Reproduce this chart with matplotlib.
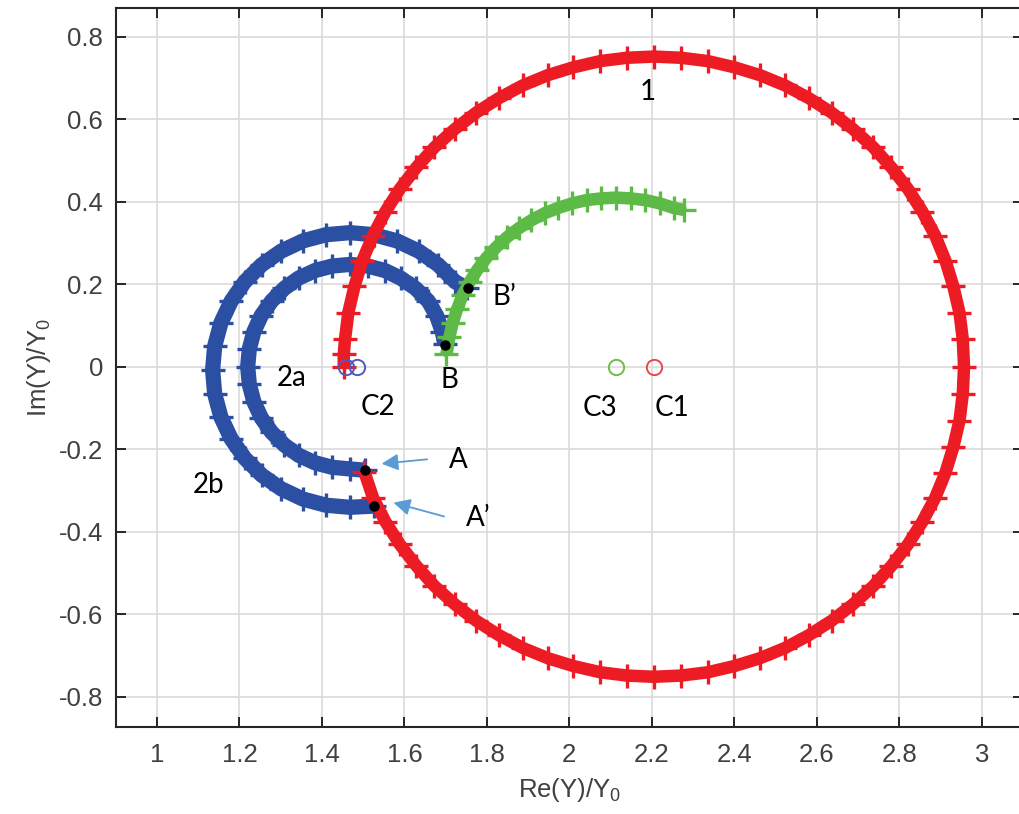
import matplotlib
matplotlib.use("Agg")
import matplotlib.pyplot as plt

# curve 1 (red)
red_x = [1.453, 1.453, 1.456, 1.464, 1.479, 1.498, 1.524, 1.554, 1.589, 1.629,
         1.673, 1.722, 1.774, 1.829, 1.887, 1.948, 2.010, 2.075, 2.139, 2.205,
         2.271, 2.336, 2.400, 2.462, 2.523, 2.581, 2.636, 2.688, 2.737, 2.781,
         2.821, 2.856, 2.887, 2.912, 2.931, 2.946, 2.954, 2.957, 2.954, 2.946,
         2.931, 2.912, 2.887, 2.856, 2.821, 2.781, 2.737, 2.688, 2.636, 2.581,
         2.523, 2.462, 2.400, 2.336, 2.271, 2.205, 2.139, 2.075, 2.010, 1.948,
         1.887, 1.829, 1.774, 1.722, 1.673, 1.629, 1.589, 1.554, 1.524, 1.503]
red_y = [0.000, 0.030, 0.066, 0.131, 0.195, 0.257, 0.318, 0.376, 0.431, 0.483,
         0.532, 0.576, 0.616, 0.651, 0.682, 0.707, 0.726, 0.741, 0.749, 0.752,
         0.749, 0.741, 0.726, 0.707, 0.682, 0.651, 0.616, 0.576, 0.532, 0.483,
         0.431, 0.376, 0.318, 0.257, 0.195, 0.131, 0.066, 0.000, -0.066, -0.131,
         -0.195, -0.257, -0.318, -0.376, -0.431, -0.483, -0.532, -0.576, -0.616, -0.651,
         -0.682, -0.707, -0.726, -0.741, -0.749, -0.752, -0.749, -0.741, -0.726, -0.707,
         -0.682, -0.651, -0.616, -0.576, -0.532, -0.483, -0.431, -0.376, -0.318, -0.255]

# curve 2a (blue, inner)
b2a_x = [1.698, 1.692, 1.678, 1.658, 1.627, 1.592, 1.553, 1.511, 1.468, 1.425,
         1.383, 1.344, 1.309, 1.278, 1.253, 1.235, 1.224, 1.220, 1.224, 1.235,
         1.253, 1.278, 1.309, 1.344, 1.383, 1.425, 1.468, 1.504]
b2a_y = [0.055, 0.085, 0.124, 0.159, 0.190, 0.214, 0.233, 0.244, 0.248, 0.244,
         0.233, 0.215, 0.190, 0.159, 0.124, 0.085, 0.043, 0.000, -0.043, -0.085,
         -0.124, -0.159, -0.190, -0.215, -0.233, -0.244, -0.248, -0.251]

# curve 2b (blue, outer)
b2b_x = [1.752, 1.723, 1.682, 1.635, 1.582, 1.526, 1.468, 1.410, 1.354, 1.301,
         1.254, 1.213, 1.180, 1.155, 1.140, 1.135, 1.140, 1.155, 1.180, 1.213,
         1.254, 1.301, 1.354, 1.410, 1.468, 1.526]
b2b_y = [0.190, 0.206, 0.247, 0.280, 0.305, 0.320, 0.325, 0.320, 0.305, 0.280,
         0.247, 0.206, 0.159, 0.106, 0.050, -0.008, -0.066, -0.122, -0.175, -0.222,
         -0.263, -0.296, -0.321, -0.336, -0.341, -0.338]

# curve 3 (green)
g3_x = [1.702, 1.709, 1.717, 1.728, 1.741, 1.758, 1.777, 1.799, 1.823, 1.849,
        1.878, 1.908, 1.940, 1.973, 2.007, 2.042, 2.077, 2.113, 2.149, 2.184,
        2.219, 2.253, 2.278]
g3_y = [0.030, 0.071, 0.106, 0.140, 0.173, 0.205, 0.235, 0.264, 0.290, 0.314,
        0.336, 0.355, 0.372, 0.385, 0.396, 0.404, 0.408, 0.410, 0.408, 0.404,
        0.396, 0.385, 0.380]

# circle centres
c1 = (2.205, 0.0)
c3 = (2.113, 0.0)
c2_x = [1.458, 1.485]
c2_y = [0.0, 0.0]

# marked points
pts_x = [1.698, 1.754, 1.504, 1.526]
pts_y = [0.053, 0.190, -0.251, -0.338]

labels = ["1", "2a", "2b", "C2", "B", "B\u2019", "C3", "C1", "A", "A\u2019"]
label_x = [2.19, 1.327, 1.124, 1.536, 1.709, 1.842, 2.074, 2.248, 1.730, 1.778]
label_y = [0.667, -0.027, -0.286, -0.097, -0.032, 0.168, -0.100, -0.100, -0.227, -0.366]

RED = "#ed1c24"
BLUE = "#2b4fa2"
GREEN = "#5dba46"

fig = plt.figure(figsize=(10.19, 8.14), dpi=100)
ax = fig.add_axes([115.7 / 1019, 1 - 726.7 / 814, (1023 - 115.7) / 1019, (726.7 - 8.3) / 814])

style = dict(marker="+", ms=17, mew=2.4, solid_capstyle="butt", solid_joinstyle="round")
ax.plot(b2b_x, b2b_y, color=BLUE, lw=11, zorder=3, **style)
ax.plot(b2a_x, b2a_y, color=BLUE, lw=11, zorder=3, **style)
ax.plot(g3_x, g3_y, color=GREEN, lw=9, zorder=4, **style)
ax.plot(red_x, red_y, color=RED, lw=9, zorder=5, **style)

ax.plot([c1[0]], [c1[1]], "o", mfc="none", mec="#e8474c", ms=11, mew=1.4, zorder=6)
ax.plot([c3[0]], [c3[1]], "o", mfc="none", mec="#6cbf45", ms=11, mew=1.4, zorder=6)
ax.plot(c2_x, c2_y, "o", mfc="none", mec="#4a5cc0", ms=11, mew=1.4, zorder=6)

ax.plot(pts_x, pts_y, "o", color="black", ms=6.5, zorder=7)

for t, x, y in zip(labels, label_x, label_y):
    ax.text(x, y, t, fontsize=20, family="Lato", ha="center", va="center", zorder=8)

arrow_kw = dict(arrowstyle="-|>,head_length=1.0,head_width=0.5", color="#5b9bd5", lw=1.3)
ax.annotate("", xy=(1.538, -0.236), xytext=(1.662, -0.224), arrowprops=arrow_kw, zorder=8)
ax.annotate("", xy=(1.567, -0.328), xytext=(1.703, -0.365), arrowprops=arrow_kw, zorder=8)

ax.set_xlim(0.9, 3.1)
ax.set_ylim(-0.873, 0.869)
ax.set_xticks([1, 1.2, 1.4, 1.6, 1.8, 2, 2.2, 2.4, 2.6, 2.8, 3])
ax.set_xticklabels(["1", "1.2", "1.4", "1.6", "1.8", "2", "2.2", "2.4", "2.6", "2.8", "3"])
ax.set_yticks([-0.8, -0.6, -0.4, -0.2, 0, 0.2, 0.4, 0.6, 0.8])
ax.set_yticklabels(["-0.8", "-0.6", "-0.4", "-0.2", "0", "0.2", "0.4", "0.6", "0.8"])

ax.grid(True, color="#dadada", lw=1.2, zorder=0)
ax.set_axisbelow(True)
for s in ax.spines.values():
    s.set_color("#262626")
    s.set_linewidth(1.5)
ax.tick_params(direction="in", length=7, width=1.4, top=True, right=True,
               color="#262626", labelcolor="#404040", labelsize=18.5)
ax.tick_params(axis="x", pad=12)
ax.tick_params(axis="y", pad=9)
for lab in ax.get_xticklabels() + ax.get_yticklabels():
    lab.set_family("Liberation Sans")

ax.set_xlabel(r"$\mathregular{Re(Y)/Y_0}$", fontsize=18.5, color="#404040", family="Liberation Sans", labelpad=6)
ax.set_ylabel(r"$\mathregular{Im(Y)/Y_0}$", fontsize=18.5, color="#404040", family="Liberation Sans", labelpad=4)

fig.savefig("out.png", dpi=100)
